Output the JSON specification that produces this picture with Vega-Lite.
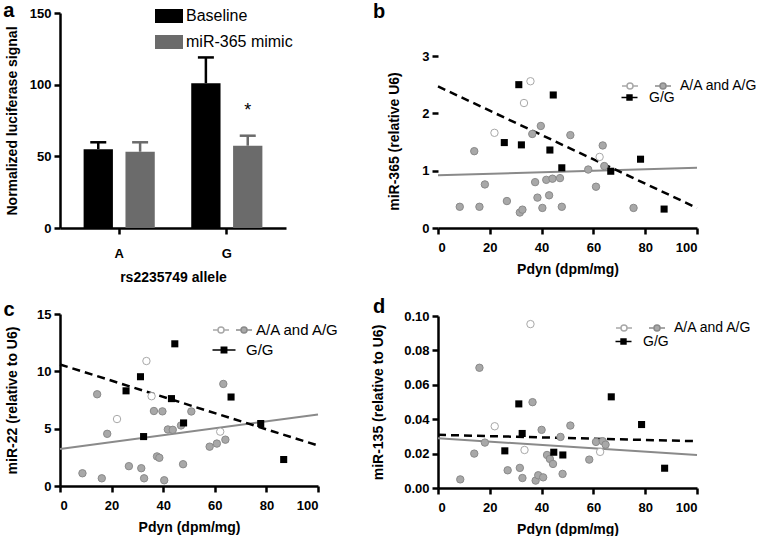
{
  "$schema": "https://vega.github.io/schema/vega-lite/v6.json",
  "padding": {"left": 3, "top": 1, "right": 0, "bottom": 0},
  "config": {
    "view": {"stroke": null},
    "font": "Liberation Sans",
    "axis": {"domainColor": "#000", "domainWidth": 2.5, "tickColor": "#000", "tickWidth": 2.5, "tickSize": 6, "labelFont": "Liberation Sans", "labelFontSize": 13, "labelFontWeight": "bold", "labelColor": "#000", "titleFont": "Liberation Sans", "titleFontSize": 14, "titleFontWeight": "bold", "titleColor": "#000", "grid": false, "labelPadding": 3, "labelOverlap": false},
    "axisX": {"labelPadding": 7, "titlePadding": 8, "labelAngle": 0},
    "title": {"font": "Liberation Sans", "fontSize": 20, "fontWeight": "bold", "color": "#000"},
    "legend": {"labelFont": "Liberation Sans", "labelColor": "#000", "labelLimit": 300}
  },
  "resolve": {"scale": {"color": "independent", "fill": "independent", "stroke": "independent", "shape": "independent", "strokeDash": "independent"}, "legend": {"color": "independent", "fill": "independent", "stroke": "independent", "shape": "independent", "strokeDash": "independent"}},
  "datasets": {
    "bars": [
      {"allele": "A", "group": "Baseline", "v": 55, "err": 59.8, "sig": ""},
      {"allele": "A", "group": "miR-365 mimic", "v": 53.2, "err": 59.8, "sig": ""},
      {"allele": "G", "group": "Baseline", "v": 101, "err": 119, "sig": ""},
      {"allele": "G", "group": "miR-365 mimic", "v": 57.4, "err": 64.4, "sig": "*"}
    ],
    "fits": [
      {"panel": "b", "grp": "AA", "pdyn": 0, "val": 0.92}, {"panel": "b", "grp": "AA", "pdyn": 100, "val": 1.05},
      {"panel": "b", "grp": "GG", "pdyn": 0, "val": 2.47}, {"panel": "b", "grp": "GG", "pdyn": 100, "val": 0.35},
      {"panel": "c", "grp": "AA", "pdyn": 0, "val": 3.23}, {"panel": "c", "grp": "AA", "pdyn": 100, "val": 6.23},
      {"panel": "c", "grp": "GG", "pdyn": 0, "val": 10.6}, {"panel": "c", "grp": "GG", "pdyn": 100, "val": 3.53},
      {"panel": "d", "grp": "AA", "pdyn": 0, "val": 0.0289}, {"panel": "d", "grp": "AA", "pdyn": 100, "val": 0.0192},
      {"panel": "d", "grp": "GG", "pdyn": 0, "val": 0.0309}, {"panel": "d", "grp": "GG", "pdyn": 100, "val": 0.0272}
    ],
    "bpts": [
      {"grp": "AA", "pdyn": 8.4, "val": 0.37}, {"grp": "AA", "pdyn": 14.0, "val": 1.34}, {"grp": "AA", "pdyn": 16.0, "val": 0.37}, {"grp": "AA", "pdyn": 18.1, "val": 0.76},
      {"grp": "AA", "pdyn": 26.6, "val": 0.47}, {"grp": "AA", "pdyn": 31.6, "val": 0.27}, {"grp": "AA", "pdyn": 32.6, "val": 0.32}, {"grp": "AA", "pdyn": 36.4, "val": 1.64},
      {"grp": "AA", "pdyn": 39.7, "val": 1.78}, {"grp": "AA", "pdyn": 37.5, "val": 0.80}, {"grp": "AA", "pdyn": 38.4, "val": 0.53}, {"grp": "AA", "pdyn": 40.3, "val": 0.35},
      {"grp": "AA", "pdyn": 41.8, "val": 0.84}, {"grp": "AA", "pdyn": 42.9, "val": 0.57}, {"grp": "AA", "pdyn": 44.2, "val": 0.86}, {"grp": "AA", "pdyn": 47.1, "val": 0.87},
      {"grp": "AA", "pdyn": 47.8, "val": 0.37}, {"grp": "AA", "pdyn": 51.1, "val": 1.62}, {"grp": "AA", "pdyn": 58.0, "val": 1.02}, {"grp": "AA", "pdyn": 61.0, "val": 0.72},
      {"grp": "AA", "pdyn": 63.6, "val": 1.44}, {"grp": "AA", "pdyn": 64.2, "val": 1.08}, {"grp": "AA", "pdyn": 75.5, "val": 0.35},
      {"grp": "open", "pdyn": 21.8, "val": 1.66}, {"grp": "open", "pdyn": 33.2, "val": 2.18}, {"grp": "open", "pdyn": 35.7, "val": 2.56}, {"grp": "open", "pdyn": 62.4, "val": 1.24},
      {"grp": "GG", "pdyn": 25.6, "val": 1.49}, {"grp": "GG", "pdyn": 31.2, "val": 2.50}, {"grp": "GG", "pdyn": 32.2, "val": 1.45}, {"grp": "GG", "pdyn": 43.2, "val": 1.36},
      {"grp": "GG", "pdyn": 44.5, "val": 2.32}, {"grp": "GG", "pdyn": 47.8, "val": 1.05}, {"grp": "GG", "pdyn": 66.7, "val": 0.99}, {"grp": "GG", "pdyn": 78.2, "val": 1.20},
      {"grp": "GG", "pdyn": 87.3, "val": 0.33}
    ],
    "cpts": [
      {"grp": "AA", "pdyn": 8.7, "val": 1.11}, {"grp": "AA", "pdyn": 14.4, "val": 8.0}, {"grp": "AA", "pdyn": 16.2, "val": 0.67}, {"grp": "AA", "pdyn": 18.3, "val": 4.55},
      {"grp": "AA", "pdyn": 26.7, "val": 1.73}, {"grp": "AA", "pdyn": 31.5, "val": 1.55}, {"grp": "AA", "pdyn": 32.6, "val": 0.67}, {"grp": "AA", "pdyn": 36.4, "val": 6.54},
      {"grp": "AA", "pdyn": 39.7, "val": 6.51}, {"grp": "AA", "pdyn": 37.6, "val": 2.58}, {"grp": "AA", "pdyn": 38.5, "val": 2.46}, {"grp": "AA", "pdyn": 40.4, "val": 0.5},
      {"grp": "AA", "pdyn": 41.8, "val": 4.93}, {"grp": "AA", "pdyn": 43.7, "val": 4.9}, {"grp": "AA", "pdyn": 46.9, "val": 5.28}, {"grp": "AA", "pdyn": 47.7, "val": 1.9},
      {"grp": "AA", "pdyn": 50.9, "val": 6.5}, {"grp": "AA", "pdyn": 58.0, "val": 3.43}, {"grp": "AA", "pdyn": 60.8, "val": 3.7}, {"grp": "AA", "pdyn": 63.3, "val": 8.9},
      {"grp": "AA", "pdyn": 64.1, "val": 4.04},
      {"grp": "open", "pdyn": 22.1, "val": 5.84}, {"grp": "open", "pdyn": 33.5, "val": 10.9}, {"grp": "open", "pdyn": 35.5, "val": 7.83}, {"grp": "open", "pdyn": 62.1, "val": 4.74},
      {"grp": "GG", "pdyn": 25.6, "val": 8.3}, {"grp": "GG", "pdyn": 31.2, "val": 9.53}, {"grp": "GG", "pdyn": 32.4, "val": 4.31}, {"grp": "GG", "pdyn": 43.2, "val": 7.62},
      {"grp": "GG", "pdyn": 44.5, "val": 12.4}, {"grp": "GG", "pdyn": 47.9, "val": 5.5}, {"grp": "GG", "pdyn": 66.3, "val": 7.76}, {"grp": "GG", "pdyn": 77.8, "val": 5.45},
      {"grp": "GG", "pdyn": 86.7, "val": 2.31}
    ],
    "dpts": [
      {"grp": "AA", "pdyn": 8.6, "val": 0.0050}, {"grp": "AA", "pdyn": 14.0, "val": 0.0200}, {"grp": "AA", "pdyn": 16.0, "val": 0.0699}, {"grp": "AA", "pdyn": 18.1, "val": 0.0264},
      {"grp": "AA", "pdyn": 26.9, "val": 0.0103}, {"grp": "AA", "pdyn": 31.6, "val": 0.0117}, {"grp": "AA", "pdyn": 32.6, "val": 0.0058}, {"grp": "AA", "pdyn": 36.5, "val": 0.0499},
      {"grp": "AA", "pdyn": 40.0, "val": 0.0338}, {"grp": "AA", "pdyn": 37.7, "val": 0.0043}, {"grp": "AA", "pdyn": 38.7, "val": 0.0074}, {"grp": "AA", "pdyn": 40.6, "val": 0.0062},
      {"grp": "AA", "pdyn": 42.1, "val": 0.0192}, {"grp": "AA", "pdyn": 43.2, "val": 0.0169}, {"grp": "AA", "pdyn": 44.4, "val": 0.0140}, {"grp": "AA", "pdyn": 47.3, "val": 0.0297},
      {"grp": "AA", "pdyn": 48.1, "val": 0.0082}, {"grp": "AA", "pdyn": 51.1, "val": 0.0363}, {"grp": "AA", "pdyn": 58.4, "val": 0.0165}, {"grp": "AA", "pdyn": 61.0, "val": 0.0268},
      {"grp": "AA", "pdyn": 63.6, "val": 0.0272}, {"grp": "AA", "pdyn": 64.7, "val": 0.0252},
      {"grp": "open", "pdyn": 21.9, "val": 0.0359}, {"grp": "open", "pdyn": 33.4, "val": 0.0221}, {"grp": "open", "pdyn": 35.7, "val": 0.0953}, {"grp": "open", "pdyn": 62.6, "val": 0.0210},
      {"grp": "GG", "pdyn": 25.8, "val": 0.0216}, {"grp": "GG", "pdyn": 31.2, "val": 0.0489}, {"grp": "GG", "pdyn": 32.5, "val": 0.0317}, {"grp": "GG", "pdyn": 44.7, "val": 0.0208},
      {"grp": "GG", "pdyn": 48.2, "val": 0.0192}, {"grp": "GG", "pdyn": 66.9, "val": 0.0530}, {"grp": "GG", "pdyn": 78.6, "val": 0.0369}, {"grp": "GG", "pdyn": 87.5, "val": 0.0115}
    ]
  },
  "spacing": 31,
  "hconcat": [
    {
      "spacing": 16,
      "resolve": {"scale": {"color": "independent", "fill": "independent", "stroke": "independent", "shape": "independent", "strokeDash": "independent"}, "legend": {"color": "independent", "fill": "independent", "stroke": "independent", "shape": "independent", "strokeDash": "independent"}},
      "vconcat": [
        {
          "width": 226, "height": 215,
          "title": {"text": "a", "anchor": "start", "frame": "bounds", "offset": -19, "dx": -2},
          "data": {"name": "bars"},
          "encoding": {
            "x": {"field": "allele", "type": "nominal", "scale": {"paddingInner": 0.3, "paddingOuter": 0.2}, "axis": {"title": "rs2235749 allele", "labelPadding": 13, "titlePadding": 10}},
            "xOffset": {"field": "group", "type": "nominal", "scale": {"paddingInner": 0.3, "paddingOuter": 0.05}}
          },
          "layer": [
            {
              "mark": {"type": "bar"},
              "encoding": {
                "y": {"field": "v", "type": "quantitative", "scale": {"domain": [0, 150], "nice": false}, "axis": {"title": "Normalized luciferase signal", "values": [0, 50, 100, 150], "titlePadding": 10}},
                "color": {"field": "group", "type": "nominal", "scale": {"domain": ["Baseline", "miR-365 mimic"], "range": ["#000000", "#6b6b6b"]},
                  "legend": {"title": null, "orient": "none", "legendX": 95, "legendY": -11, "symbolType": "M-1,-0.5H1V0.5H-1Z", "symbolSize": 784, "symbolStrokeWidth": 0, "labelFontSize": 16, "labelOffset": 3, "rowPadding": 4}}
              }
            },
            {
              "mark": {"type": "rule", "strokeWidth": 2.5},
              "encoding": {"y": {"field": "v", "type": "quantitative"}, "y2": {"field": "err"}, "color": {"field": "group", "type": "nominal"}}
            },
            {
              "mark": {"type": "tick", "size": 16, "thickness": 2.5, "opacity": 1},
              "encoding": {"y": {"field": "err", "type": "quantitative"}, "color": {"field": "group", "type": "nominal"}}
            },
            {
              "mark": {"type": "text", "fontSize": 18, "color": "#000", "baseline": "alphabetic", "dy": -20},
              "encoding": {"y": {"field": "err", "type": "quantitative"}, "text": {"field": "sig"}}
            }
          ]
        },
        {
          "width": 258, "height": 172,
          "title": {"text": "c", "anchor": "start", "frame": "bounds", "offset": -12, "dx": -2},
          "encoding": {
            "x": {"field": "pdyn", "type": "quantitative", "scale": {"domain": [0, 100], "nice": false}, "axis": {"title": "Pdyn (dpm/mg)", "values": [0, 20, 40, 60, 80, 100]}},
            "y": {"field": "val", "type": "quantitative", "scale": {"domain": [0, 15], "nice": false}, "axis": {"title": "miR-22 (relative to U6)", "values": [0, 5, 10, 15], "labelOverlap": false, "titlePadding": 17}}
          },
          "layer": [
            {
              "data": {"name": "cpts"},
              "transform": [{"filter": "false"}],
              "mark": {"type": "point", "filled": true, "opacity": 1, "strokeWidth": 1.5},
              "encoding": {
                "fill": {"field": "grp", "type": "nominal", "scale": {"domain": ["open", "AA"], "range": ["#ffffff", "#a8a8a8"]},
                  "legend": {"title": null, "orient": "none", "legendX": 152, "legendY": 7, "direction": "horizontal", "columnPadding": 0, "labelOffset": 3, "labelFontSize": 15, "symbolSize": 256, "symbolStrokeWidth": 1.5, "symbolOpacity": 1, "labelExpr": "datum.value === 'open' ? '' : 'A/A and A/G'"}},
                "stroke": {"field": "grp", "type": "nominal", "scale": {"domain": ["open", "AA"], "range": ["#a8a8a8", "#8a8a8a"]},
                  "legend": {"title": null, "orient": "none", "legendX": 152, "legendY": 7, "direction": "horizontal", "columnPadding": 0, "labelOffset": 3, "labelFontSize": 15, "symbolSize": 256, "symbolStrokeWidth": 1.5, "symbolOpacity": 1, "labelExpr": "datum.value === 'open' ? '' : 'A/A and A/G'"}},
                "shape": {"field": "grp", "type": "nominal", "scale": {"domain": ["open", "AA"], "range": ["M-1,0H-0.375M0.375,0H1M-0.375,0A0.375,0.375,0,1,1,0.375,0A0.375,0.375,0,1,1,-0.375,0Z", "M-1,0H-0.375M0.375,0H1M-0.375,0A0.375,0.375,0,1,1,0.375,0A0.375,0.375,0,1,1,-0.375,0Z"]},
                  "legend": {"title": null, "orient": "none", "legendX": 152, "legendY": 7, "direction": "horizontal", "columnPadding": 0, "labelOffset": 3, "labelFontSize": 15, "symbolSize": 256, "symbolStrokeWidth": 1.5, "symbolOpacity": 1, "labelExpr": "datum.value === 'open' ? '' : 'A/A and A/G'"}}
              }
            },
            {
              "data": {"name": "cpts"},
              "transform": [{"filter": "false"}],
              "mark": {"type": "point", "filled": true, "opacity": 1, "color": "#000", "stroke": "#000", "strokeWidth": 0.5},
              "encoding": {
                "strokeDash": {"field": "grp", "type": "nominal", "scale": {"domain": ["GG"], "range": [[1, 0]]},
                  "legend": {"title": null, "orient": "none", "legendX": 152, "legendY": 24, "labelOffset": 10, "labelFontSize": 15, "symbolSize": 529, "symbolStrokeWidth": 0.5, "symbolOpacity": 1, "symbolType": "M-1,-0.07H1V0.07H-1ZM-0.3,-0.3H0.3V0.3H-0.3Z", "symbolFillColor": "#000", "symbolStrokeColor": "#000", "labelExpr": "'G/G'"}}
              }
            },
            {
              "data": {"name": "fits"},
              "transform": [{"filter": "datum.panel === 'c' && datum.grp === 'AA'"}],
              "mark": {"type": "line", "color": "#8a8a8a", "strokeWidth": 2}
            },
            {
              "data": {"name": "fits"},
              "transform": [{"filter": "datum.panel === 'c' && datum.grp === 'GG'"}],
              "mark": {"type": "line", "color": "#000", "strokeWidth": 2.5, "strokeDash": [8, 5]}
            },
            {
              "data": {"name": "cpts"},
              "transform": [{"filter": "datum.grp !== 'GG'"}],
              "mark": {"type": "circle", "opacity": 1, "size": 55, "strokeWidth": 1},
              "encoding": {
                "fill": {"field": "grp", "type": "nominal", "legend": null},
                "stroke": {"field": "grp", "type": "nominal", "legend": null}
              }
            },
            {
              "data": {"name": "cpts"},
              "transform": [{"filter": "datum.grp === 'GG'"}],
              "mark": {"type": "square", "opacity": 1, "size": 50, "color": "#000"}
            }
          ]
        }
      ]
    },
    {
      "spacing": 21,
      "resolve": {"scale": {"color": "independent", "fill": "independent", "stroke": "independent", "shape": "independent", "strokeDash": "independent"}, "legend": {"color": "independent", "fill": "independent", "stroke": "independent", "shape": "independent", "strokeDash": "independent"}},
      "vconcat": [
        {
          "width": 259, "height": 215,
          "title": {"text": "b", "anchor": "start", "frame": "group", "offset": -9, "dx": -65},
          "encoding": {
            "x": {"field": "pdyn", "type": "quantitative", "scale": {"domain": [0, 100], "nice": false}, "axis": {"title": "Pdyn (dpm/mg)", "values": [0, 20, 40, 60, 80, 100]}},
            "y": {"field": "val", "type": "quantitative", "scale": {"domain": [0, 3.75], "nice": false}, "axis": {"title": "miR-365 (relative U6)", "values": [0, 1, 2, 3], "format": "d", "domain": false, "labelOverlap": false, "titlePadding": 20, "titleY": 128}}
          },
          "layer": [
            {
              "data": {"name": "bpts"},
              "transform": [{"filter": "false"}],
              "mark": {"type": "point", "filled": true, "opacity": 1, "strokeWidth": 1.5},
              "encoding": {
                "fill": {"field": "grp", "type": "nominal", "scale": {"domain": ["open", "AA"], "range": ["#ffffff", "#a8a8a8"]},
                  "legend": {"title": null, "orient": "none", "legendX": 183, "legendY": 64, "direction": "horizontal", "columnPadding": 5, "labelOffset": 8, "labelFontSize": 14, "symbolSize": 256, "symbolStrokeWidth": 1.5, "symbolOpacity": 1, "labelExpr": "datum.value === 'open' ? '' : 'A/A and A/G'"}},
                "stroke": {"field": "grp", "type": "nominal", "scale": {"domain": ["open", "AA"], "range": ["#a8a8a8", "#8a8a8a"]},
                  "legend": {"title": null, "orient": "none", "legendX": 183, "legendY": 64, "direction": "horizontal", "columnPadding": 5, "labelOffset": 8, "labelFontSize": 14, "symbolSize": 256, "symbolStrokeWidth": 1.5, "symbolOpacity": 1, "labelExpr": "datum.value === 'open' ? '' : 'A/A and A/G'"}},
                "shape": {"field": "grp", "type": "nominal", "scale": {"domain": ["open", "AA"], "range": ["M-1,0H-0.375M0.375,0H1M-0.375,0A0.375,0.375,0,1,1,0.375,0A0.375,0.375,0,1,1,-0.375,0Z", "M-1,0H-0.375M0.375,0H1M-0.375,0A0.375,0.375,0,1,1,0.375,0A0.375,0.375,0,1,1,-0.375,0Z"]},
                  "legend": {"title": null, "orient": "none", "legendX": 183, "legendY": 64, "direction": "horizontal", "columnPadding": 5, "labelOffset": 8, "labelFontSize": 14, "symbolSize": 256, "symbolStrokeWidth": 1.5, "symbolOpacity": 1, "labelExpr": "datum.value === 'open' ? '' : 'A/A and A/G'"}}
              }
            },
            {
              "data": {"name": "bpts"},
              "transform": [{"filter": "false"}],
              "mark": {"type": "point", "filled": true, "opacity": 1, "color": "#000", "stroke": "#000", "strokeWidth": 0.5},
              "encoding": {
                "strokeDash": {"field": "grp", "type": "nominal", "scale": {"domain": ["GG"], "range": [[1, 0]]},
                  "legend": {"title": null, "orient": "none", "legendX": 183, "legendY": 76, "labelOffset": 11, "labelFontSize": 14, "symbolSize": 256, "symbolStrokeWidth": 0.5, "symbolOpacity": 1, "symbolType": "M-1,-0.1H1V0.1H-1ZM-0.4,-0.4H0.4V0.4H-0.4Z", "symbolFillColor": "#000", "symbolStrokeColor": "#000", "labelExpr": "'G/G'"}}
              }
            },
            {
              "data": {"values": [{}]},
              "mark": {"type": "rule", "color": "#000", "strokeWidth": 2.5, "strokeCap": "square"},
              "encoding": {"x": {"datum": 0}, "y": {"datum": 0}, "y2": {"datum": 3}}
            },
            {
              "data": {"name": "fits"},
              "transform": [{"filter": "datum.panel === 'b' && datum.grp === 'AA'"}],
              "mark": {"type": "line", "color": "#8a8a8a", "strokeWidth": 2}
            },
            {
              "data": {"name": "fits"},
              "transform": [{"filter": "datum.panel === 'b' && datum.grp === 'GG'"}],
              "mark": {"type": "line", "color": "#000", "strokeWidth": 2.5, "strokeDash": [8, 5]}
            },
            {
              "data": {"name": "bpts"},
              "transform": [{"filter": "datum.grp !== 'GG'"}],
              "mark": {"type": "circle", "opacity": 1, "size": 55, "strokeWidth": 1},
              "encoding": {
                "fill": {"field": "grp", "type": "nominal", "legend": null},
                "stroke": {"field": "grp", "type": "nominal", "legend": null}
              }
            },
            {
              "data": {"name": "bpts"},
              "transform": [{"filter": "datum.grp === 'GG'"}],
              "mark": {"type": "square", "opacity": 1, "size": 50, "color": "#000"}
            }
          ]
        },
        {
          "width": 259, "height": 172,
          "title": {"text": "d", "anchor": "start", "frame": "group", "offset": -7, "dx": -65},
          "encoding": {
            "x": {"field": "pdyn", "type": "quantitative", "scale": {"domain": [0, 100], "nice": false}, "axis": {"title": "Pdyn (dpm/mg)", "values": [0, 20, 40, 60, 80, 100]}},
            "y": {"field": "val", "type": "quantitative", "scale": {"domain": [0, 0.1], "nice": false}, "axis": {"title": "miR-135 (relative to U6)", "values": [0, 0.02, 0.04, 0.06, 0.08, 0.1], "format": ".2f", "labelOverlap": false, "titlePadding": 18}}
          },
          "layer": [
            {
              "data": {"name": "dpts"},
              "transform": [{"filter": "false"}],
              "mark": {"type": "point", "filled": true, "opacity": 1, "strokeWidth": 1.5},
              "encoding": {
                "fill": {"field": "grp", "type": "nominal", "scale": {"domain": ["open", "AA"], "range": ["#ffffff", "#a8a8a8"]},
                  "legend": {"title": null, "orient": "none", "legendX": 177, "legendY": 3, "direction": "horizontal", "columnPadding": 5, "labelOffset": 8, "labelFontSize": 14, "symbolSize": 256, "symbolStrokeWidth": 1.5, "symbolOpacity": 1, "labelExpr": "datum.value === 'open' ? '' : 'A/A and A/G'"}},
                "stroke": {"field": "grp", "type": "nominal", "scale": {"domain": ["open", "AA"], "range": ["#a8a8a8", "#8a8a8a"]},
                  "legend": {"title": null, "orient": "none", "legendX": 177, "legendY": 3, "direction": "horizontal", "columnPadding": 5, "labelOffset": 8, "labelFontSize": 14, "symbolSize": 256, "symbolStrokeWidth": 1.5, "symbolOpacity": 1, "labelExpr": "datum.value === 'open' ? '' : 'A/A and A/G'"}},
                "shape": {"field": "grp", "type": "nominal", "scale": {"domain": ["open", "AA"], "range": ["M-1,0H-0.375M0.375,0H1M-0.375,0A0.375,0.375,0,1,1,0.375,0A0.375,0.375,0,1,1,-0.375,0Z", "M-1,0H-0.375M0.375,0H1M-0.375,0A0.375,0.375,0,1,1,0.375,0A0.375,0.375,0,1,1,-0.375,0Z"]},
                  "legend": {"title": null, "orient": "none", "legendX": 177, "legendY": 3, "direction": "horizontal", "columnPadding": 5, "labelOffset": 8, "labelFontSize": 14, "symbolSize": 256, "symbolStrokeWidth": 1.5, "symbolOpacity": 1, "labelExpr": "datum.value === 'open' ? '' : 'A/A and A/G'"}}
              }
            },
            {
              "data": {"name": "dpts"},
              "transform": [{"filter": "false"}],
              "mark": {"type": "point", "filled": true, "opacity": 1, "color": "#000", "stroke": "#000", "strokeWidth": 0.5},
              "encoding": {
                "strokeDash": {"field": "grp", "type": "nominal", "scale": {"domain": ["GG"], "range": [[1, 0]]},
                  "legend": {"title": null, "orient": "none", "legendX": 177, "legendY": 17, "labelOffset": 11, "labelFontSize": 14, "symbolSize": 256, "symbolStrokeWidth": 0.5, "symbolOpacity": 1, "symbolType": "M-1,-0.1H1V0.1H-1ZM-0.4,-0.4H0.4V0.4H-0.4Z", "symbolFillColor": "#000", "symbolStrokeColor": "#000", "labelExpr": "'G/G'"}}
              }
            },
            {
              "data": {"name": "fits"},
              "transform": [{"filter": "datum.panel === 'd' && datum.grp === 'AA'"}],
              "mark": {"type": "line", "color": "#8a8a8a", "strokeWidth": 2}
            },
            {
              "data": {"name": "fits"},
              "transform": [{"filter": "datum.panel === 'd' && datum.grp === 'GG'"}],
              "mark": {"type": "line", "color": "#000", "strokeWidth": 2.5, "strokeDash": [8, 5]}
            },
            {
              "data": {"name": "dpts"},
              "transform": [{"filter": "datum.grp !== 'GG'"}],
              "mark": {"type": "circle", "opacity": 1, "size": 55, "strokeWidth": 1},
              "encoding": {
                "fill": {"field": "grp", "type": "nominal", "legend": null},
                "stroke": {"field": "grp", "type": "nominal", "legend": null}
              }
            },
            {
              "data": {"name": "dpts"},
              "transform": [{"filter": "datum.grp === 'GG'"}],
              "mark": {"type": "square", "opacity": 1, "size": 50, "color": "#000"}
            }
          ]
        }
      ]
    }
  ]
}
